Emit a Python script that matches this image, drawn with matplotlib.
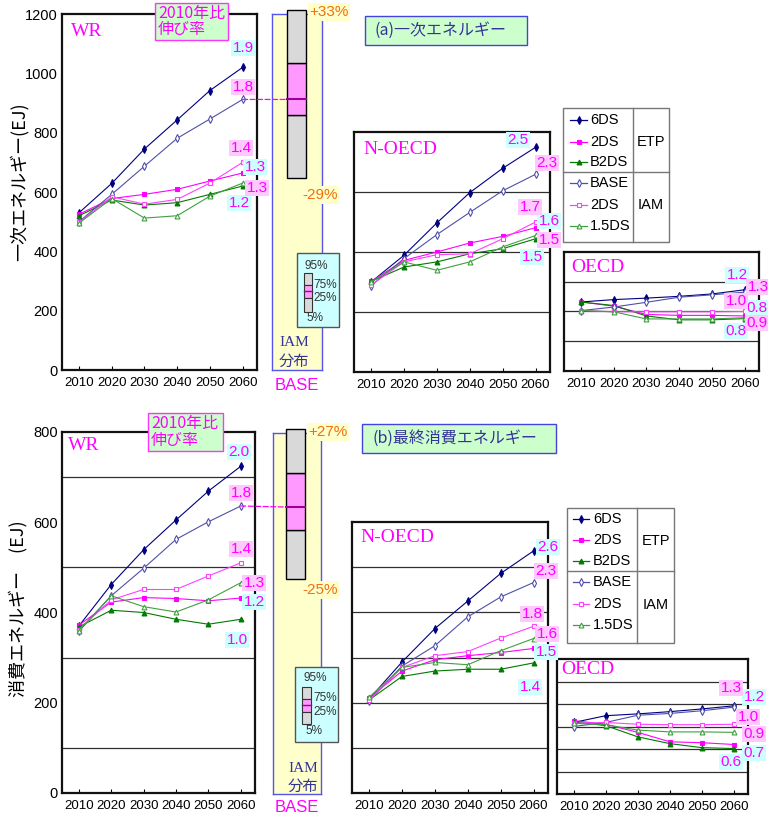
import numpy as np
import matplotlib
matplotlib.use('Agg')
import matplotlib.pyplot as plt
from matplotlib.patches import Rectangle, ConnectionPatch

W, H = 768, 827
plt.rcParams['font.family'] = ['Liberation Sans', 'Noto Sans CJK JP']
JP = ['Noto Sans CJK JP', 'DejaVu Sans']
SERIF = ['Liberation Serif', 'DejaVu Serif']

years = [2010, 2020, 2030, 2040, 2050, 2060]
names = ['6DS', '2DS', 'B2DS', 'BASE', '2DS', '1.5DS']   # first three ETP, last three IAM

# (a) primary energy, EJ
wr_a = [[530, 629, 745, 843, 942, 1020],
        [525, 578, 592, 609, 637, 664],
        [520, 573, 556, 564, 592, 620],
        [500, 592, 687, 781, 846, 912],
        [498, 584, 559, 575, 630, 700],
        [495, 578, 512, 520, 586, 630]]
noecd_a = [[300, 389, 497, 598, 679, 749],
           [302, 372, 400, 430, 452, 481],
           [302, 350, 367, 394, 411, 444],
           [288, 378, 458, 532, 604, 659],
           [290, 367, 391, 394, 444, 500],
           [300, 367, 339, 367, 417, 455]]
oecd_a = [[232, 240, 245, 251, 259, 273],
          [232, 218, 190, 187, 187, 185],
          [232, 220, 185, 172, 172, 176],
          [203, 215, 231, 248, 256, 265],
          [203, 199, 199, 199, 199, 200],
          [203, 199, 175, 175, 175, 179]]

# (b) final energy consumption, EJ
wr_b = [[370, 462, 539, 605, 669, 724],
        [372, 423, 433, 431, 426, 432],
        [368, 405, 400, 385, 374, 385],
        [358, 437, 498, 562, 601, 636],
        [362, 428, 451, 451, 481, 510],
        [360, 437, 413, 401, 428, 466]]
noecd_b = [[208, 290, 364, 425, 486, 536],
           [210, 270, 295, 304, 311, 320],
           [206, 258, 270, 274, 274, 288],
           [204, 281, 326, 390, 434, 466],
           [205, 278, 304, 313, 343, 369],
           [212, 278, 289, 284, 315, 342]]
oecd_b = [[159, 174, 178, 183, 189, 196],
          [163, 155, 137, 116, 114, 110],
          [160, 152, 127, 112, 103, 101],
          [150, 159, 175, 179, 185, 193],
          [157, 159, 155, 154, 154, 155],
          [157, 154, 142, 138, 138, 137]]

# IAM BASE 2060 distribution: 5%, 25%, median, 75%, 95%
box_a = [647, 860, 912, 1035, 1213]
box_b = [477, 585, 636, 712, 808]

styles = [dict(color='#000080', marker='d', mfc='#000080', ms=4),
          dict(color='#FF00FF', marker='s', mfc='#FF00FF', ms=3),
          dict(color='#007A00', marker='^', mfc='#007A00', ms=3.5),
          dict(color='#5050A8', marker='d', mfc='white', ms=4),
          dict(color='#FF40FF', marker='s', mfc='white', ms=3),
          dict(color='#40A040', marker='^', mfc='white', ms=3.5)]
label_bg = ['#CCFFFF'] * 3 + ['#FFC8FF'] * 3
MAG = '#FF00FF'
NAVY = '#333399'

fig = plt.figure(figsize=(W / 100, H / 100), dpi=100)


def px_rect(x0, y0, x1, y1):
    return [x0 / W, 1 - y1 / H, (x1 - x0) / W, (y1 - y0) / H]


def draw_panel(rect, data, top, step, label_step=None):
    ax = fig.add_axes(px_rect(*rect))
    for vals, st in zip(data, styles):
        ax.plot(years, vals, lw=0.8, color=st['color'], marker=st['marker'],
                ms=st['ms'], mfc=st['mfc'], mec=st['color'], mew=0.8, zorder=3)
    ax.set_xlim(2004.8, 2064.4)
    ax.set_ylim(0, top)
    ax.set_xticks(years)
    ax.tick_params(axis='x', direction='in', length=3, labelsize=9.5, pad=5)
    ax.set_yticks(np.arange(step, top, step), minor=True)
    if label_step:
        ax.set_yticks(np.arange(0, top + 1, label_step))
    else:
        ax.set_yticks([])
    ax.tick_params(axis='y', which='both', length=0, labelsize=10.5, pad=3)
    ax.grid(axis='y', which='minor', color='#303030', lw=0.9)
    ax.set_axisbelow(True)
    for s in ax.spines.values():
        s.set_linewidth(1.6)
        s.set_color('#111111')
    return ax


def draw_box(rect, q, ylim, center, width):
    axb = fig.add_axes(px_rect(*rect))
    axb.set_facecolor('#FFFFCC')
    axb.set_xlim(0, 1)
    axb.set_ylim(0, ylim)
    axb.set_xticks([])
    axb.set_yticks([])
    for s in axb.spines.values():
        s.set_color('#5555EE')
        s.set_linewidth(1)
    q05, q25, med, q75, q95 = q
    for lo, hi, c in [(q05, q25, '#D9D9D9'), (q25, q75, '#FF99FF'), (q75, q95, '#D9D9D9')]:
        axb.bar(center, hi - lo, bottom=lo, width=width, color=c,
                edgecolor='black', lw=1, clip_on=False, zorder=4)
    axb.plot([center - width / 2, center + width / 2], [med, med],
             color='#990099', lw=1.5, clip_on=False, zorder=5)
    return axb


sections = [
    dict(wr=wr_a, no=noecd_a, oe=oecd_a, box=box_a,
         wr_rect=(62, 14, 257, 370), wr_top=1200, wr_step=200, wr_lab=200,
         no_rect=(354, 132, 550, 372), no_top=800, no_step=200,
         oe_rect=(564, 252, 759, 371), oe_top=400, oe_step=100,
         box_rect=(272, 14, 322, 370), box_c=0.49, box_w=0.38,
         names_xy=[(87, 32), (400, 150), (598, 267)],
         wr_lab_xy=[(243, 48), (255, 167), (239, 203), (243, 87), (241, 148), (257, 188)],
         no_lab_xy=[(518, 140), (549, 221), (532, 257), (547, 163), (530, 207), (549, 240)],
         oe_lab_xy=[(737, 275), (757, 308), (736, 331), (758, 287), (736, 301), (757, 323)],
         growth_box=(155, 3, 228, 40),
         title='(a)一次エネルギー', title_box=(365, 16, 527, 45),
         ylabel='一次エネルギー(EJ)', ylabel_xy=(19, 182),
         pct_xy=[(329, 12), (320, 195)],
         mini=dict(box=(297, 253, 339, 327), ix=(304, 312), iy=(273, 285, 298, 312), mid=291,
                   t95=(316, 266), t75=(313, 285), t25=(313, 298), t5=(315, 318)),
         iam_xy=(294, 343), base_xy=(297, 386),
         legend=dict(box=(563, 108, 669, 242), vx=633, hy=172,
                     rows=[120, 142, 162, 183, 205, 226], sx=(570, 587), tx=590,
                     etp=(651, 142), iam=(651, 205))),
    dict(wr=wr_b, no=noecd_b, oe=oecd_b, box=box_b,
         wr_rect=(62, 432, 255, 793), wr_top=800, wr_step=100, wr_lab=200,
         no_rect=(352, 522, 548, 793), no_top=600, no_step=100,
         oe_rect=(557, 659, 748, 794), oe_top=300, oe_step=50,
         box_rect=(273, 433, 321, 794), box_c=0.47, box_w=0.4,
         names_xy=[(84, 445), (397, 537), (588, 670)],
         wr_lab_xy=[(239, 452), (254, 602), (237, 640), (241, 493), (241, 549), (254, 583)],
         no_lab_xy=[(548, 547), (546, 652), (530, 687), (546, 571), (532, 614), (547, 634)],
         oe_lab_xy=[(754, 697), (754, 753), (731, 762), (731, 688), (748, 717), (754, 734)],
         growth_box=(148, 413, 223, 451),
         title='(b)最終消費エネルギー', title_box=(362, 424, 556, 453),
         ylabel='消費エネルギー　(EJ)', ylabel_xy=(18, 609),
         pct_xy=[(328, 432), (320, 590)],
         mini=dict(box=(295, 667, 338, 742), ix=(302, 311), iy=(687, 699, 712, 724), mid=705,
                   t95=(315, 678), t75=(313, 698), t25=(313, 712), t5=(314, 731)),
         iam_xy=(303, 768), base_xy=(297, 808),
         legend=dict(box=(567, 508, 674, 643), vx=637, hy=571,
                     rows=[519, 540, 561, 582, 604, 625], sx=(573, 589), tx=593,
                     etp=(656, 541), iam=(656, 605))),
]

ov = fig.add_axes([0, 0, 1, 1], zorder=10)
ov.set_xlim(0, W)
ov.set_ylim(H, 0)
ov.axis('off')


def ratio_labels(data, xy):
    for vals, (x, y), bg in zip(data, xy, label_bg):
        ov.text(x, y, f'{vals[-1] / vals[0]:.1f}', color=MAG, fontsize=11,
                ha='center', va='center',
                bbox=dict(boxstyle='square,pad=0.08', fc=bg, ec='none'))


def rect_px(x0, y0, x1, y1, **kw):
    ov.add_patch(Rectangle((x0, y0), x1 - x0, y1 - y0, **kw))


for sec in sections:
    ax_wr = draw_panel(sec['wr_rect'], sec['wr'], sec['wr_top'], sec['wr_step'], sec['wr_lab'])
    draw_panel(sec['no_rect'], sec['no'], sec['no_top'], sec['no_step'])
    draw_panel(sec['oe_rect'], sec['oe'], sec['oe_top'], sec['oe_step'])
    axb = draw_box(sec['box_rect'], sec['box'], sec['wr_top'], sec['box_c'], sec['box_w'])

    # dashed link from the IAM BASE 2060 value to the median of its distribution
    base_2060 = sec['wr'][3][-1]
    con = ConnectionPatch(xyA=(2060, base_2060), coordsA=ax_wr.transData,
                          xyB=(sec['box_c'] - sec['box_w'] / 2, base_2060), coordsB=axb.transData,
                          color=MAG, lw=0.9, ls=(0, (4, 2)), zorder=6)
    fig.add_artist(con)

    q05, q25, med, q75, q95 = sec['box']
    for (x, y), q in zip(sec['pct_xy'], [q95, q05]):
        ov.text(x, y, f'{q / med - 1:+.0%}', color='#F07010', fontsize=11,
                ha='center', va='center',
                bbox=dict(boxstyle='square,pad=0.1', fc='#FFFFCC', ec='none'))

    for name, (x, y) in zip(['WR', 'N-OECD', 'OECD'], sec['names_xy']):
        ov.text(x, y, name, color=MAG, fontsize=14, family=SERIF, ha='center', va='center')

    ratio_labels(sec['wr'], sec['wr_lab_xy'])
    ratio_labels(sec['no'], sec['no_lab_xy'])
    ratio_labels(sec['oe'], sec['oe_lab_xy'])

    gx0, gy0, gx1, gy1 = sec['growth_box']
    rect_px(gx0, gy0, gx1, gy1, fc='#CCFFCC', ec='#FF33FF', lw=1)
    ov.text(gx0 + 3, (gy0 + gy1) / 2, '2010年比\n伸び率', color=MAG, fontsize=11.5,
            family=JP, ha='left', va='center', linespacing=0.95)

    tx0, ty0, tx1, ty1 = sec['title_box']
    rect_px(tx0, ty0, tx1, ty1, fc='#CCFFCC', ec='#4444DD', lw=1)
    ov.text(tx0 + 10, (ty0 + ty1) / 2, sec['title'], color=NAVY, fontsize=11.5,
            family=JP, ha='left', va='center')

    ov.text(*sec['ylabel_xy'], sec['ylabel'], rotation=90, fontsize=13, family=JP,
            ha='center', va='center', color='black')

    m = sec['mini']
    rect_px(*m['box'], fc='#CCFFFF', ec='#555555', lw=1)
    ix0, ix1 = m['ix']
    iy = m['iy']
    for (a, b), c in zip([(iy[0], iy[1]), (iy[1], iy[2]), (iy[2], iy[3])],
                         ['#D9D9D9', '#FF99FF', '#D9D9D9']):
        rect_px(ix0, a, ix1, b, fc=c, ec='#333333', lw=0.8)
    ov.plot([ix0, ix1], [m['mid'], m['mid']], color='#990099', lw=1)
    ov.text(*m['t95'], '95%', fontsize=8.5, color='#333333', ha='center', va='center')
    ov.text(*m['t75'], '75%', fontsize=8.5, color='#333333', ha='left', va='center')
    ov.text(*m['t25'], '25%', fontsize=8.5, color='#333333', ha='left', va='center')
    ov.text(*m['t5'], '5%', fontsize=8.5, color='#333333', ha='center', va='center')

    ix, iyy = sec['iam_xy']
    ov.text(ix, iyy, 'IAM', fontsize=11, family=SERIF, color=NAVY, ha='center', va='center')
    ov.text(ix, iyy + 18, '分布', fontsize=11, family=JP, color=NAVY, ha='center', va='center')
    ov.text(*sec['base_xy'], 'BASE', fontsize=12, color=MAG, ha='center', va='center')

    lg = sec['legend']
    lx0, ly0, lx1, ly1 = lg['box']
    rect_px(lx0, ly0, lx1, ly1, fc='white', ec='#777777', lw=1)
    ov.plot([lg['vx'], lg['vx']], [ly0, ly1], color='#777777', lw=1)
    ov.plot([lx0, lx1], [lg['hy'], lg['hy']], color='#777777', lw=1)
    sx0, sx1 = lg['sx']
    for name, y, st in zip(names, lg['rows'], styles):
        ov.plot([sx0, (sx0 + sx1) / 2, sx1], [y, y, y], color=st['color'], lw=0.9,
                marker=st['marker'], ms=st['ms'], mfc=st['mfc'], mec=st['color'],
                mew=0.8, markevery=[1])
        ov.text(lg['tx'], y, name, fontsize=10.5, ha='left', va='center', color='black')
    ov.text(*lg['etp'], 'ETP', fontsize=10.5, ha='center', va='center', color='black')
    ov.text(*lg['iam'], 'IAM', fontsize=10.5, ha='center', va='center', color='black')

fig.savefig('out.png', dpi=100)
